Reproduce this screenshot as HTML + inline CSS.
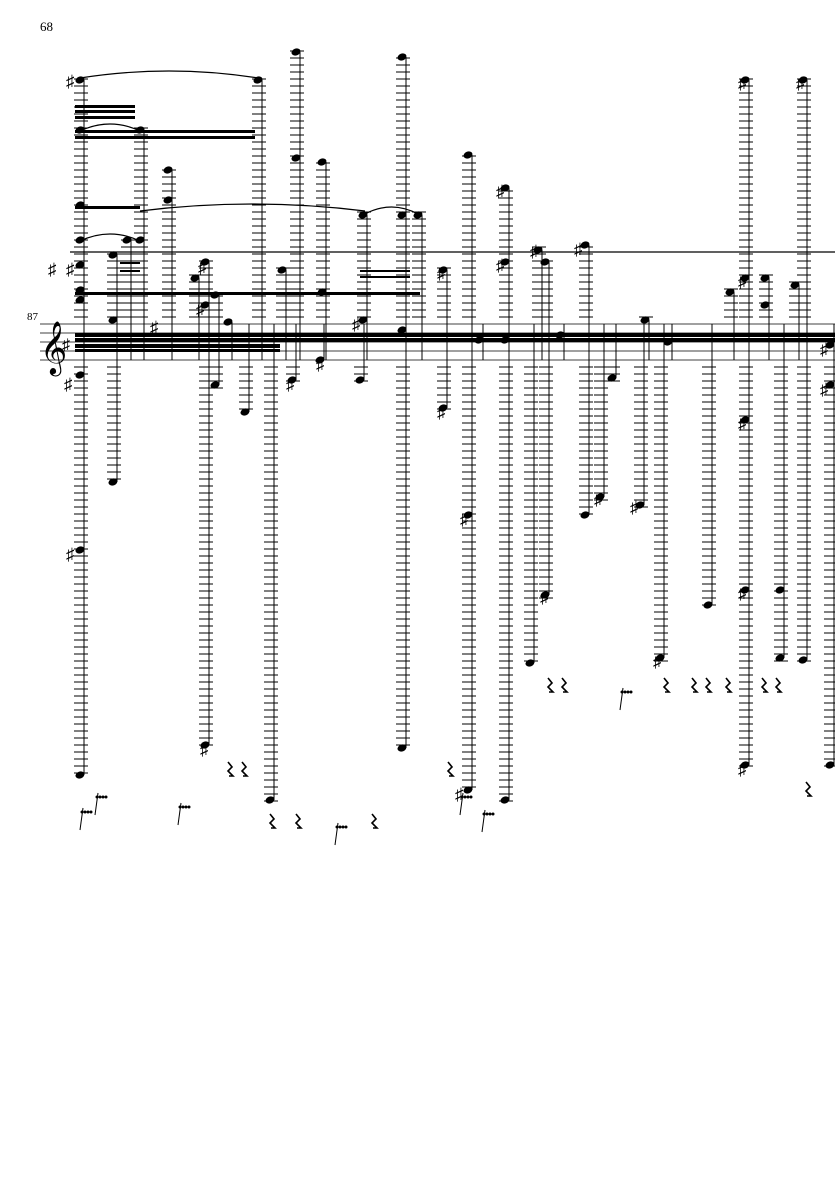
<!DOCTYPE html>
<html><head><meta charset="utf-8"><style>
html,body{margin:0;padding:0;background:#fff;width:835px;height:1181px;overflow:hidden}
svg{position:absolute;left:0;top:0}
text{font-family:"Liberation Serif",serif}
</style></head><body>
<svg id="s" width="835" height="1181" xmlns="http://www.w3.org/2000/svg">
<text x="40" y="31" font-size="13">68</text>
<text x="27" y="320" font-size="11">87</text>
<text x="40" y="363" font-size="46">𝄞</text>
<text x="62" y="350" font-size="16">♯</text>
<g id="g"></g>
</svg>
<script>
(function(){
var g=document.getElementById('g'),h='';
var T=324,B=360;
for(var i=0;i<5;i++){var y=T+i*9;h+='<line x1="40" x2="835" y1="'+y+'" y2="'+y+'" stroke="#000" stroke-width="0.8"/>';}
var N=[[80,[80,130,205,240,265,290,300,375,550,775]],[113,[255,320,482]],[127,[240]],[140,[240,130]],[168,[170,200]],[195,[278]],[205,[262,305,745]],[215,[385,295]],[228,[322]],[245,[412]],[258,[80]],[270,[800]],[282,[270]],[292,[380]],[296,[52,158]],[322,[162,292]],[320,[360]],[360,[380]],[363,[215,320]],[402,[57,215,330,748]],[418,[215]],[443,[270,408]],[468,[155,515,790]],[479,[340]],[505,[188,262,340,800]],[530,[663]],[538,[250]],[545,[262,595]],[560,[335]],[585,[245,515]],[600,[497]],[612,[378]],[640,[505]],[645,[320]],[660,[658]],[668,[342]],[708,[605]],[730,[292]],[745,[80,278,420,590,765]],[765,[305,278]],[780,[590,658]],[795,[285]],[803,[80,660]],[830,[345,385,765]]];
N.forEach(function(n){var x=n[0],hs=n[1];var mn=Math.min.apply(null,hs.concat([T])),mx=Math.max.apply(null,hs.concat([B]));
h+='<line x1="'+(x+4)+'" x2="'+(x+4)+'" y1="'+mn+'" y2="'+mx+'" stroke="#000" stroke-width="1"/>';
for(var y=T-7;y>=mn-3;y-=7)h+='<line x1="'+(x-6)+'" x2="'+(x+8)+'" y1="'+y+'" y2="'+y+'" stroke="#000" stroke-width="1"/>';
for(var y=B+7;y<=mx+3;y+=7)h+='<line x1="'+(x-6)+'" x2="'+(x+8)+'" y1="'+y+'" y2="'+y+'" stroke="#000" stroke-width="1"/>';
hs.forEach(function(y){h+='<ellipse cx="'+x+'" cy="'+y+'" rx="4.6" ry="3.4" transform="rotate(-20 '+x+' '+y+')"/>';});
});
[[75,835,333,4],[75,835,338,4],[75,280,344,4],[75,280,349,3],[75,135,105,3],[75,135,110,3],[75,135,116,3],[75,255,130,3],[75,255,136,3],[75,140,206,3],[75,420,292,3],[360,410,270,2],[360,410,276,2],[120,140,262,2],[120,140,270,2]].forEach(function(b){h+='<rect x="'+b[0]+'" y="'+b[2]+'" width="'+(b[1]-b[0])+'" height="'+b[3]+'"/>';});
h+='<line x1="70" x2="835" y1="252" y2="252" stroke="#000" stroke-width="1.2"/>';
[[80,258,72],[140,365,205],[365,418,208],[80,140,125],[80,140,235]].forEach(function(s){h+='<path d="M'+s[0]+' '+(s[2]+6)+' Q'+((s[0]+s[1])/2)+' '+(s[2]-8)+' '+s[1]+' '+(s[2]+6)+'" fill="none" stroke="#000" stroke-width="1.2"/>';});
[[66,82],[48,270],[66,270],[64,385],[66,555],[150,328],[198,268],[196,310],[286,385],[316,365],[352,325],[437,274],[437,413],[460,520],[496,192],[496,266],[530,252],[574,250],[540,598],[594,500],[630,508],[653,662],[738,84],[738,282],[738,424],[738,594],[796,84],[200,750],[455,795],[738,770],[820,350],[820,390]].forEach(function(a){h+='<text x="'+a[0]+'" y="'+(a[1]+5)+'" font-size="17">♯</text>';});
[[228,770],[242,770],[270,822],[296,822],[372,822],[448,770],[548,686],[562,686],[664,686],[692,686],[706,686],[726,686],[762,686],[776,686],[806,790]].forEach(function(r){var x=r[0],y=r[1];h+='<path d="M'+x+' '+(y-8)+' l4 5 -4 4 5 5 -4 0" fill="none" stroke="#000" stroke-width="1.6"/>';});
[[80,820],[95,805],[178,815],[335,835],[460,805],[482,822],[620,700]].forEach(function(r){var x=r[0],y=r[1];h+='<line x1="'+x+'" y1="'+(y+10)+'" x2="'+(x+3)+'" y2="'+(y-12)+'" stroke="#000"/>';for(var k=0;k<4;k++)h+='<circle cx="'+(x+2+k*3)+'" cy="'+(y-8)+'" r="1.5"/>';});
g.innerHTML=h;
})();
</script>
</body></html>
